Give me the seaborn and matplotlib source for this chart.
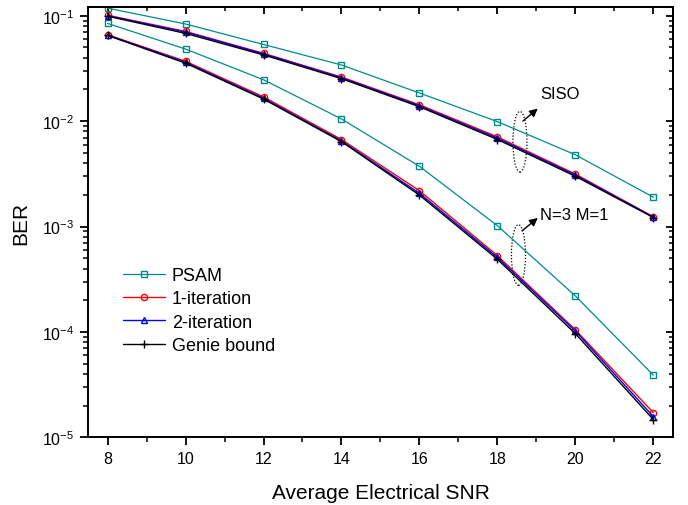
import matplotlib
matplotlib.use("Agg")
import matplotlib.pyplot as plt
import matplotlib.ticker as mticker
from matplotlib.patches import Ellipse
import seaborn as sns

# SNR points (dB)
snr = [8, 10, 12, 14, 16, 18, 20, 22]

# SISO curves
siso_psam = [0.118, 0.0835, 0.0534, 0.0341, 0.0185, 0.0099, 0.0048, 0.0019]
siso_iter1 = [0.101, 0.0710, 0.0440, 0.0262, 0.0143, 0.0071, 0.00315, 0.00124]
siso_iter2 = [0.100, 0.0700, 0.0435, 0.0258, 0.0140, 0.0069, 0.00308, 0.00123]
siso_genie = [0.099, 0.0680, 0.0425, 0.0253, 0.0137, 0.0067, 0.00300, 0.00122]

# N=3 M=1 curves
mimo_psam = [0.0846, 0.0483, 0.0247, 0.0105, 0.00373, 0.00102, 0.000220, 3.9e-5]
mimo_iter1 = [0.0660, 0.0370, 0.0170, 0.0067, 0.00219, 0.00053, 0.000105, 1.72e-5]
mimo_iter2 = [0.0655, 0.0362, 0.0165, 0.0065, 0.00207, 0.00051, 0.000102, 1.58e-5]
mimo_genie = [0.0650, 0.0355, 0.0162, 0.0064, 0.00199, 0.00049, 0.0000965, 1.48e-5]

labels = ["PSAM", "1-iteration", "2-iteration", "Genie bound"]
colors = ["#008B8B", "#FF0000", "#0000FF", "#000000"]
markers = ["s", "o", "^", "+"]
widths = [0.9, 1.0, 1.0, 1.0]

sns.set_style("ticks")
plt.rcParams["font.family"] = ["Liberation Sans", "DejaVu Sans"]
plt.rcParams["mathtext.fontset"] = "custom"
plt.rcParams["mathtext.rm"] = "Liberation Sans"
plt.rcParams["mathtext.it"] = "Liberation Sans:italic"
for key in ["axes.edgecolor", "xtick.color", "ytick.color", "text.color", "axes.labelcolor"]:
    plt.rcParams[key] = "black"

fig = plt.figure(figsize=(6.88, 5.06), dpi=100)
ax = fig.add_axes([0.128, 0.1334, 0.850, 0.8508])

siso = [siso_psam, siso_iter1, siso_iter2, siso_genie]
mimo = [mimo_psam, mimo_iter1, mimo_iter2, mimo_genie]

for i in range(4):
    for k, vals in enumerate([siso[i], mimo[i]]):
        sns.lineplot(x=snr, y=vals, ax=ax, color=colors[i], marker=markers[i],
                     markersize=4.5 if markers[i] != "+" else 6,
                     mfc="none", mec=colors[i], mew=1, lw=widths[i],
                     label=labels[i] if k == 0 else "_nolegend_")

ax.set_yscale("log")
ax.set_xlim(7.5, 22.5)
ax.set_ylim(1e-5, 0.121)
ax.xaxis.set_major_locator(mticker.MultipleLocator(2))
ax.xaxis.set_minor_locator(mticker.MultipleLocator(1))
ax.yaxis.set_major_locator(mticker.LogLocator(base=10, numticks=10))
ax.yaxis.set_minor_locator(mticker.LogLocator(base=10, subs=range(2, 10), numticks=10))
ax.yaxis.set_minor_formatter(mticker.NullFormatter())

for sp in ax.spines.values():
    sp.set_visible(True)
    sp.set_linewidth(1.4)
    sp.set_color("black")
ax.tick_params(which="major", direction="out", length=6, width=1.3, labelsize=11.5, pad=4)
ax.tick_params(which="minor", direction="out", length=3.5, width=1.1)

# top and right ticks point inwards
top = ax.secondary_xaxis("top")
top.xaxis.set_major_locator(mticker.MultipleLocator(2))
top.xaxis.set_minor_locator(mticker.MultipleLocator(1))
top.tick_params(which="major", direction="in", length=5, width=1.3, labeltop=False)
top.tick_params(which="minor", direction="in", length=3, width=1.1)
top.spines["top"].set_linewidth(1.4)
right = ax.secondary_yaxis("right")
right.yaxis.set_major_locator(mticker.LogLocator(base=10, numticks=10))
right.yaxis.set_minor_locator(mticker.LogLocator(base=10, subs=range(2, 10), numticks=10))
right.tick_params(which="major", direction="in", length=5, width=1.3, labelright=False)
right.tick_params(which="minor", direction="in", length=3, width=1.1, labelright=False)
right.spines["right"].set_linewidth(1.4)

ax.set_xlabel("Average Electrical SNR", fontsize=15, labelpad=12)
ax.set_ylabel("BER", fontsize=15, labelpad=8)

ax.legend(loc="upper left", bbox_to_anchor=(0.06, 0.396), frameon=False,
          fontsize=13, handlelength=2.3, handletextpad=0.4, labelspacing=0.35,
          borderpad=0, borderaxespad=0)

# group annotations
for (cx, cy), (tx, ty), (ax0, ay0), (lx, ly), txt in [
        ((0.7385, 0.687), (0.769, 0.764), (0.7436, 0.735), (0.773, 0.799), "SISO"),
        ((0.736, 0.424), (0.769, 0.510), (0.742, 0.480), (0.773, 0.519), "N=3 M=1")]:
    ax.add_patch(Ellipse((cx, cy), 0.024, 0.141, transform=ax.transAxes,
                         fill=False, ls=(0, (1, 1.5)), lw=0.9, ec="black"))
    ax.annotate("", xy=(tx, ty), xytext=(ax0, ay0), xycoords="axes fraction",
                arrowprops=dict(arrowstyle="-|>", color="black", lw=1,
                                mutation_scale=12, shrinkA=0, shrinkB=0))
    ax.text(lx, ly, txt, transform=ax.transAxes,
            fontsize=12, va="center", ha="left")

fig.savefig("out.png", dpi=100)
